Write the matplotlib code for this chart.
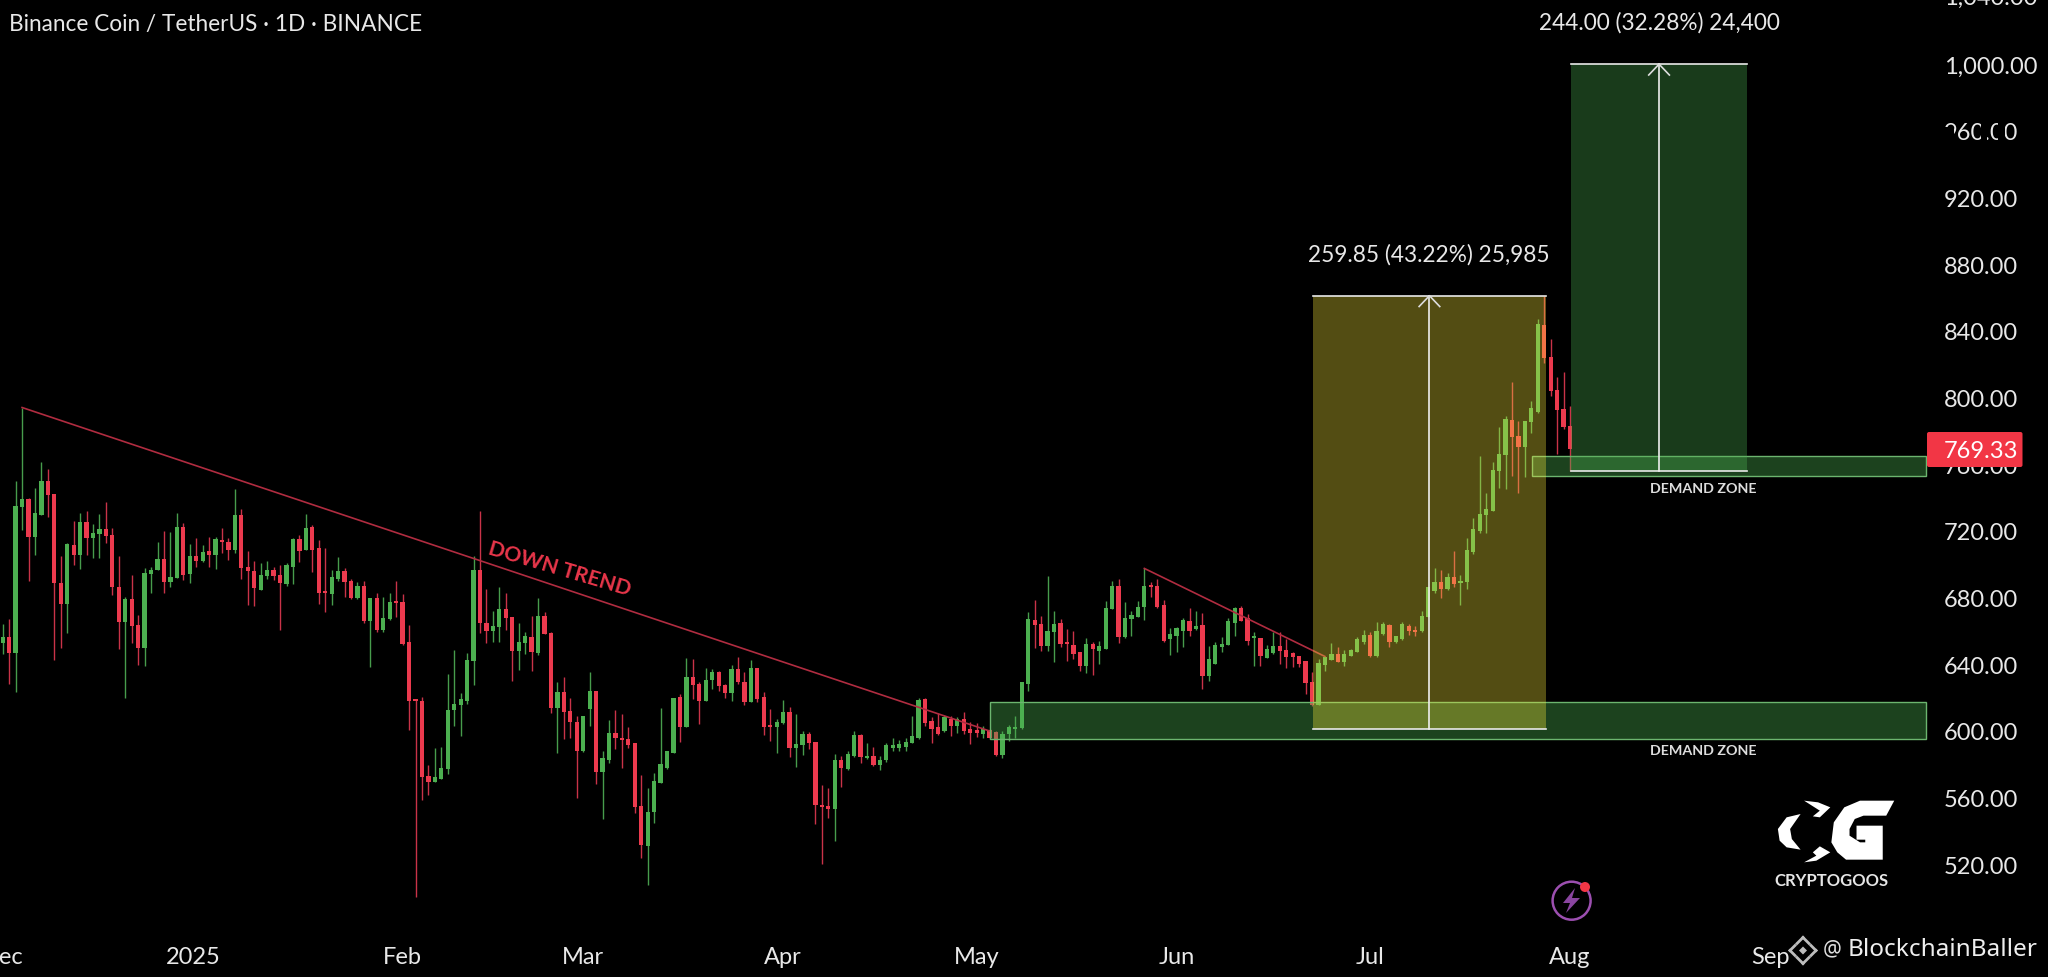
import matplotlib
matplotlib.use("Agg")
import matplotlib.pyplot as plt
import matplotlib.transforms as mt
from matplotlib.patches import Rectangle, Circle, Polygon, FancyBboxPatch

opens = [652.5,656.6,646.9,734.3,739.4,716.5,729.5,749.8,741.9,689,
676,711.6,705.6,725.6,715.7,718.2,721.1,717.8,686.6,665.1,
678.9,663.5,649.6,694,696.3,703.1,689.3,691.7,722.3,694,
705.2,701.7,707.9,705.4,714.7,713.2,708.5,729.5,698.4,695.9,
684.7,693,696.5,693.4,688.2,698.6,714.9,708.3,722.3,709.5,
683.7,682,691.3,695.9,690.1,679.6,687.2,665.9,680,660.8,
667.2,677.3,677.3,653.1,618.6,618,573.2,569.5,571.1,577.1,
612.4,615.5,618,641.8,696.5,664.5,659.7,662.4,673.2,668.2,
647.7,652.7,656.5,646.5,669.1,658.7,613.7,623.5,611.7,605.5,
588.1,613.1,624.1,575.5,582.7,598.7,596.1,595.1,593.1,555.1,
531.1,551.7,569.1,578.1,587.1,620.1,602.1,632.1,628.1,617.7,
630.5,635.5,627.5,622.7,637.1,629.5,617.5,637.7,620.1,603.1,
602.1,604.7,611.5,590.1,591.7,598.1,593.5,555.9,555.1,553.1,
582.5,577.5,585.1,597.5,584.1,585.1,579.5,582.7,590.1,590.1,
590.7,593.1,596.1,619.1,606.1,602.1,600.1,607.1,603.1,607.1,
601.1,600.7,598.1,600.7,599.5,585.5,598.1,601.1,601.5,628.1,
666.5,664.1,650.7,659.1,664.7,652.7,651.5,647.1,639.1,652.1,
648.1,649.1,673.1,687.1,656.1,667.1,668.5,674.1,687.1,686.7,
675.7,655.1,657.1,660.1,666.1,661.1,663.5,632.7,640.1,650.1,
651.7,664.7,673.5,667.7,655.7,655.5,643.7,646.7,650.7,648.5,
646.5,644.7,641.7,629.1,615.7,639.5,642.7,646.1,641.1,645.1,
647.5,653.5,657.5,645.1,658.1,663.5,653.1,655.1,663.1,660.5,
660.1,668.1,684.1,689.5,685.1,692.1,688.7,689.1,707.1,720.1,
729.5,732.1,756.1,765.5,786.7,776.7,770.1,785.1,791.1,843.7,
824.1,804.7,793.1,783.1]

closes = [656.6,646.9,735.1,739.4,716.5,730.6,749.8,741.5,688.6,676,
712,705.6,725.6,715.5,718.6,721.1,717.1,686.4,665.1,678.9,
663,649.6,694.8,696.5,702.9,689.3,692.2,722.3,693.4,705.2,
701.7,707.6,705.4,714.9,713.2,708.5,729.5,698,695.9,685.5,
693.4,696.5,693,688.6,699.4,715.1,707.9,721.7,708.5,683,
683,692.4,695.9,689.3,679.6,687.2,665.9,680,660.8,668,
677.3,676.5,652.1,618,617.8,572.6,569.5,572.2,577.8,612.8,
616,619.1,642.4,696.5,664.5,659.7,662.8,673.2,667.6,648,
653.1,656.7,647.5,669.1,658.1,613.5,623.5,611.5,605.5,588.1,
608.7,624.1,575.5,584.1,599.1,596.1,594.7,591.5,554.7,531.5,
551.7,570.1,580.1,588.1,619.7,602.1,632.1,627.7,618.1,630.5,
635.1,626.7,622.7,637.1,629.1,617.1,637.7,619.1,602.5,602.1,
605.1,611.1,590.1,592.5,598.1,592.7,555.5,554.7,553.1,582.5,
578.1,586.5,597.5,584.7,585.1,579.5,582.7,591.5,591.7,592.5,
593.7,597.1,618.7,604.7,601.1,598.5,608.1,603.1,607.1,600.1,
599.1,598.7,601.1,596.1,585.5,598.1,602.5,602.5,629.1,667.1,
663.5,650.7,660.1,664.1,652.1,652.1,646.1,638.7,652.1,649.1,
650.7,673.5,687.1,656.1,667.7,669.5,674.5,687.1,686.5,674.1,
654.1,658.1,661.5,666.5,660.1,663.1,633.1,643.1,651.5,652.1,
666.1,673.7,666.1,653.7,656.1,645.1,649.1,651.1,647.7,644.1,
644.5,640.1,628.7,615.7,640.7,644.1,646.1,641.5,646.1,648.7,
655.1,657.5,645.1,660.1,664.1,653.1,656.7,664.1,659.7,659.5,
669.1,686.1,689.5,685.1,692.1,688.1,690.1,708.5,721.1,730.1,
733.1,756.7,766.1,787.1,776.1,770.1,785.7,793.5,844.1,823.5,
804.1,792.7,782.1,769.33]

highs = [664.1,667.2,749.8,794,739.9,745.6,761.1,757.4,742.3,705.2,
713,725.8,730.6,731.8,724,730.4,737.4,721.9,705.2,680.6,
693.4,669.6,698,698.6,713.2,720.2,719.2,731,724.8,712.4,
715.5,711.6,716.1,716.1,721.7,715.7,745,733,707.9,701.7,
700.6,701.7,698.6,699.6,700.6,715.7,717.8,730.2,723.3,714.7,
709.5,696.5,704.5,697.5,691.3,689.3,689.9,680,683,680.6,
683,689.7,682,663.4,618.8,620.1,579.8,590.1,590.6,633.9,
648.4,622.8,647,705.2,732,685.1,671.7,686.2,683,668.6,
664.7,659.1,668.7,679.7,671.1,659.1,629.1,632.1,619.7,609.1,
608.7,635.1,624.1,588.1,606.7,612.7,610.1,602.1,593.1,573.5,
566.1,575.1,613.5,588.1,619.7,622.1,643.7,643.1,629.1,637.7,
637.1,636.1,628.1,639.5,644.5,635.1,642.5,637.7,623.1,613.1,
607.1,618.7,614.1,610.1,600.1,599.5,593.5,567.5,566.1,586.1,
585.1,588.1,600.1,598.1,593.1,590.5,585.1,593.1,596.1,594.7,
596.1,608.7,619.7,619.7,608.1,610.7,609.5,609.1,608.1,611.1,
605.5,604.7,603.1,601.1,600.1,600.1,603.5,609.1,629.1,671.1,
678.7,668.7,693.1,672.1,667.1,661.1,659.7,647.1,655.5,653.5,
654.1,678.1,689.7,691.1,677.1,672.1,678.1,697.5,689.1,691.1,
678.5,661.5,662.5,667.5,673.5,672.1,670.7,651.1,653.5,656.5,
667.7,674.1,675.1,670.1,659.5,655.5,651.7,659.1,659.1,655.1,
647.1,645.1,641.7,635.5,643.1,644.5,652.5,650.1,648.5,649.1,
656.1,660.7,659.1,665.1,665.1,664.1,657.1,665.1,664.1,662.7,
672.1,686.5,697.5,696.7,694.7,707.7,693.7,715.5,727.7,765.1,
742.5,761.1,782.1,788.7,809.5,786.1,785.7,798.1,847.1,860.7,
835.1,812.1,815.1,795.1]

lows = [645.9,628.3,623.2,720.7,689.9,705.4,729.5,728.5,642.6,649.6,
658.9,699.6,697.1,705.8,703.7,703.7,713,681.6,649,619.5,
652.7,639.3,639.1,683,696.3,683,686.2,691.7,690.3,688.6,
698.6,701.2,698.6,697.1,706.8,702.7,706.8,691.3,675.4,675.2,
684.7,691.3,690.3,660.4,686.8,688.2,701.1,708.3,695.5,676.3,
671.1,675.4,689.7,680.6,679.4,678.9,664.9,638.1,659.3,659.3,
666.5,668.6,651.7,600.5,500.7,558.8,561.9,569.5,571.1,574.2,
603,596.8,616,627.3,658.7,652.5,653.1,653.1,660.4,630,
636.7,646.1,635.7,645.7,658.1,610.7,586.7,595.1,596.1,560.1,
587.5,603.1,568.1,547.5,581.1,589.5,578.1,590.1,550.7,524.1,
507.5,545.1,569.1,577.1,587.1,593.5,602.1,619.1,604.1,617.7,
625.1,624.1,619.7,618.1,628.1,615.7,617.1,617.5,597.5,594.1,
587.1,604.1,584.7,578.7,585.5,589.1,544.5,520.5,548.1,534.1,
566.5,576.7,584.7,581.1,583.5,579.1,576.5,581.7,588.1,588.1,
588.1,593.1,595.1,602.7,592.7,597.5,599.5,597.1,598.7,598.1,
592.1,596.7,595.7,595.1,585.1,584.1,594.1,596.1,601.1,624.1,
649.7,648.1,648.1,641.1,650.1,642.1,643.1,635.7,634.7,633.7,
640.1,649.1,673.1,652.5,655.7,657.1,668.5,666.5,680.1,673.7,
653.1,645.5,647.5,650.5,657.1,660.7,625.1,630.1,640.1,647.5,
651.5,657.1,666.1,651.7,639.1,639.1,643.5,646.1,640.1,637.7,
638.5,638.5,622.1,615.1,615.7,636.1,642.7,641.5,639.1,645.1,
647.1,652.1,644.1,644.1,657.5,650.5,652.7,654.5,657.5,657.1,
659.5,668.1,682.7,679.7,684.7,686.5,675.5,685.1,706.1,718.7,
718.5,732.1,745.7,745.1,753.1,742.7,752.1,778.7,790.7,820.5,
800.7,766.1,781.1,756.1]

month_labels = ["Dec", "2025", "Feb", "Mar", "Apr", "May", "Jun", "Jul", "Aug", "Sep"]
month_days = [0, 29.5, 62, 90, 121, 151, 182, 212, 243, 274]
price_ticks = [520, 560, 600, 640, 680, 720, 760, 800, 840, 880, 920, 960, 1000]

trend_main_days = [3, 153]
trend_main_prices = [794, 600]
trend_minor_days = [177, 205]
trend_minor_prices = [697.5, 644.7]

projection_1 = (203.1, 239.3, 601.2, 861.05)
projection_2 = (243.2, 270.4, 755.9, 999.9)
demand_low = (153.1, 298.2, 595.1, 617.5)
demand_high = (237.1, 298.2, 753.1, 765.1)

GREEN, RED = "#4caf50", "#f23645"
FONT = "Lato"
TXT = "#e8e8e8"

fig = plt.figure(figsize=(20.48, 9.78), dpi=100, facecolor="black")
ax = fig.add_axes([0, 0, 1, 1], facecolor="black")
ax.set_xlim((0 - 2.7) / 6.45, (2048 - 2.7) / 6.45)
ax.set_ylim(1000 - (978 - 65) / 1.6675, 1000 + 65 / 1.6675)
for s in ax.spines.values():
    s.set_visible(False)
ax.set_axisbelow(True)
PX = mt.Affine2D().scale(1 / 2048, -1 / 978).translate(0, 1) + ax.transAxes

# candles
days = list(range(len(opens)))
cols = [GREEN if c >= o else "#ec3a4e" for o, c in zip(opens, closes)]
wick = ["#479c4c" if c >= o else "#c93348" for o, c in zip(opens, closes)]
ax.vlines(days, lows, highs, colors=wick, linewidth=1.0, zorder=2)
ax.bar(days, [max(abs(c - o), 1.2) for o, c in zip(opens, closes)],
       bottom=[min(o, c) for o, c in zip(opens, closes)],
       width=0.66, color=cols, linewidth=0, zorder=2.2)

# trend lines
ax.plot(trend_main_days, trend_main_prices, color="#b02c40", lw=1.2, zorder=3)
ax.plot(trend_minor_days, trend_minor_prices, color="#b02c40", lw=1.2, zorder=3)

# demand zones
for x0, x1, y0, y1 in (demand_low, demand_high):
    ax.add_patch(Rectangle((x0, y0), x1 - x0, y1 - y0, fc=GREEN, alpha=0.38, lw=0, zorder=4))
    ax.add_patch(Rectangle((x0, y0), x1 - x0, y1 - y0, fc="none", ec="#6cb56f", lw=1.0, zorder=4.1))

# projections
def projection(box, fc, alpha):
    x0, x1, y0, y1 = box
    ax.add_patch(Rectangle((x0, y0), x1 - x0, y1 - y0, fc=fc, alpha=alpha, lw=0, zorder=5))
    ax.plot([x0, x1], [y1, y1], color="#e8e8e8", lw=1.2, zorder=6)
    ax.plot([x0, x1], [y0, y0], color="#e8e8e8", lw=1.2, zorder=6)
    mid = (x0 + x1) / 2
    ax.plot([mid, mid], [y0, y1], color="#eeeeee", lw=1.2, zorder=6)
    ax.plot([mid - 1.6, mid, mid + 1.6], [y1 - 6.5, y1, y1 - 6.5], color="#dddddd", lw=1.2, zorder=6)

projection(projection_1, "#ffeb3b", 0.33)
projection(projection_2, GREEN, 0.34)

# axes text
ax.yaxis.tick_right()
ax.set_yticks(price_ticks)
ax.set_yticklabels([f"{p:,.2f}" for p in price_ticks], ha="left", family=FONT, fontsize=17, color=TXT)
ax.tick_params(axis="y", length=0, pad=-(2048 - 1944) * 0.72)
ax.set_xticks(month_days)
ax.set_xticklabels(month_labels, family=FONT, fontsize=17, color=TXT)
ax.tick_params(axis="x", length=0, pad=-31 * 0.72)
ax.text(1944, -2, "1,040.00", transform=PX, ha="left", va="center", family=FONT, fontsize=17, color=TXT)

# the reference's 960.00 label is partly erased
for bx, by, bw, bh in [(1942, 128, 12, 16), (1981, 118, 6, 26), (1998, 118, 7, 26)]:
    ax.add_patch(Rectangle((bx, by), bw, bh, transform=PX, fc="black", lw=0, zorder=7))

ax.text(9, 24, "Binance Coin / TetherUS · 1D · BINANCE", transform=PX, ha="left", va="center",
        family=FONT, fontsize=16.3, color=TXT)
ax.text(1659, 23, "244.00 (32.28%) 24,400", transform=PX, ha="center", va="center",
        family=FONT, fontsize=16.3, color=TXT)
ax.text(1429, 255, "259.85 (43.22%) 25,985", transform=PX, ha="center", va="center",
        family=FONT, fontsize=16.3, color=TXT)
ax.text(559, 569, "DOWN TREND", transform=PX, ha="center", va="center", rotation=-16.5,
        rotation_mode="anchor", family=FONT, fontsize=15.2, fontweight="bold", color="#e8364a")
for y in (489, 751):
    ax.text(1703, y, "DEMAND ZONE", transform=PX, ha="center", va="center",
            family=FONT, fontsize=10.3, fontweight="bold", color="#dddddd")

# last price label
ax.add_patch(FancyBboxPatch((1929, 435), 91.5, 31, boxstyle="round,pad=2,rounding_size=2", transform=PX,
                            fc=RED, lw=0, zorder=8))
ax.text(1944, 451, "769.33", transform=PX, ha="left", va="center", family=FONT, fontsize=17,
        color="white", zorder=9)

# logo
def zoomed(points):
    return [(1500 + a / 2.861, 680 + b / 3) for a, b in points]

logo_shapes = [
    [(1128, 365), (1030, 365), (985, 385), (955, 430), (948, 490), (965, 520), (990, 542), (1095, 542),
     (1095, 440), (1020, 440), (1020, 482), (1045, 482), (1045, 490), (1030, 490), (1000, 470),
     (1000, 450), (1015, 420), (1040, 410), (1105, 410)],
    [(860, 405), (820, 415), (795, 450), (800, 485), (820, 505), (860, 512), (835, 480), (830, 450)],
    [(870, 365), (910, 370), (945, 385), (915, 415), (895, 412), (915, 395)],
    [(870, 550), (905, 545), (945, 520), (915, 502), (895, 520), (905, 530)],
]
for shape in logo_shapes:
    ax.add_patch(Polygon(zoomed(shape), closed=True, transform=PX, fc="white", lw=0, zorder=8))
ax.text(1831, 881, "CRYPTOGOOS", transform=PX, ha="center", va="center", family=FONT, fontsize=12,
        fontweight="bold", color="#e6e6e6")

# bolt icon
ax.add_patch(Circle((1571.6, 901.7), 19, transform=PX, fc="none", ec="#9c4fb0", lw=1.8, zorder=8))
ax.add_patch(Polygon([(1575, 889), (1563, 904), (1570, 904), (1566, 914), (1580, 899), (1572, 899)],
                     closed=True, transform=PX, fc="#8a45a0", lw=0, zorder=8))
ax.add_patch(Circle((1585, 888), 5, transform=PX, fc=RED, lw=0, zorder=9))

# watermark
cx, cy = 1803, 951.5
ring = [[(-13, 0), (-8, -5)], [(-13, 0), (-8, 5)], [(13, 0), (8, -5)], [(13, 0), (8, 5)],
        [(0, -13), (-6, -7)], [(0, -13), (6, -7)], [(0, 13), (-6, 7)], [(0, 13), (6, 7)]]
for seg in ring:
    ax.plot([cx + p[0] for p in seg], [cy + p[1] for p in seg], transform=PX, color="#bdbdbd", lw=2, zorder=8)
ax.add_patch(Polygon([(cx - 4, cy), (cx, cy - 4), (cx + 4, cy), (cx, cy + 4)], closed=True, transform=PX,
                     fc="#bdbdbd", lw=0, zorder=8))
ax.text(1832, 950, "@", transform=PX, ha="center", va="center", family="Noto Sans", fontsize=15, color="#dddddd", zorder=8)
ax.text(1848, 950, "BlockchainBaller", transform=PX, ha="left", va="center", family="Noto Sans",
        fontsize=17.5, color="#eeeeee", zorder=8)

fig.savefig("out.png", dpi=100, facecolor="black")
